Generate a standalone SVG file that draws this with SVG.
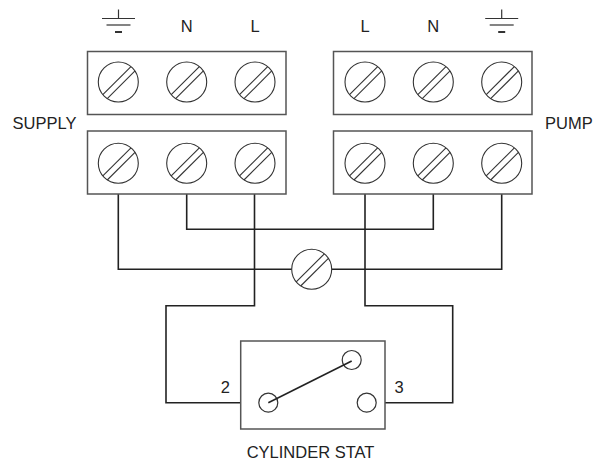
<svg xmlns="http://www.w3.org/2000/svg" xmlns:xlink="http://www.w3.org/1999/xlink" width="594" height="464" viewBox="0 0 594 464">
<style>
.box{fill:#fff;stroke:#555;stroke-width:1.5}
.wire{fill:none;stroke:#222;stroke-width:1.6;stroke-linejoin:miter}
.scr{fill:#fff;stroke:#333;stroke-width:1.1}
.slot{stroke:#333;stroke-width:1.1}
.lbl{font-family:"Liberation Sans",Arial,sans-serif;font-size:16.5px;fill:#222}
.gnd{stroke:#333;stroke-width:1.2}
.term{fill:#fff;stroke:#333;stroke-width:1.2}
</style>
<defs>
<g id="screw">
<circle class="scr" cx="0" cy="0" r="20"/>
<line class="slot" x1="-15.48" y1="12.66" x2="12.66" y2="-15.48"/>
<line class="slot" x1="-11.03" y1="16.69" x2="16.69" y2="-11.03"/>
</g>
<g id="ground">
<line class="gnd" x1="0" y1="-9" x2="0" y2="0"/>
<line class="gnd" x1="-16.5" y1="0" x2="16.5" y2="0"/>
<line class="gnd" x1="-12" y1="6.5" x2="12" y2="6.5"/>
<line x1="-3.5" y1="13.5" x2="3.5" y2="13.5" stroke="#333" stroke-width="2"/>
</g>
</defs>
<rect width="594" height="464" fill="#fff"/>

<g id="connectors">
<polyline class="wire" points="186.7,194 186.7,229.3 433.3,229.3 433.3,194"/>
<polyline class="wire" points="118.3,194 118.3,269.3 292,269.3"/>
<polyline class="wire" points="331.7,269.3 501.7,269.3 501.7,194"/>
<polyline class="wire" points="254.5,194 254.5,305.7 166,305.7 166,402.7 259,402.7"/>
<polyline class="wire" points="365,194 365,305.7 452.7,305.7 452.7,402.7 376.2,402.7"/>
</g>

<g id="supply-top">
<rect class="box" x="87.5" y="51.5" width="198.5" height="63"/>
<use xlink:href="#screw" x="118.3" y="82"/>
<use xlink:href="#screw" x="186.7" y="82"/>
<use xlink:href="#screw" x="255" y="82"/>
</g>
<g id="supply-bottom">
<rect class="box" x="87.5" y="131" width="198.5" height="63"/>
<use xlink:href="#screw" x="118.3" y="163.3"/>
<use xlink:href="#screw" x="186.7" y="163.3"/>
<use xlink:href="#screw" x="255" y="163.3"/>
</g>
<g id="pump-top">
<rect class="box" x="333.5" y="51.5" width="198.5" height="63"/>
<use xlink:href="#screw" x="365" y="82"/>
<use xlink:href="#screw" x="433.3" y="82"/>
<use xlink:href="#screw" x="501.7" y="82"/>
</g>
<g id="pump-bottom">
<rect class="box" x="333.5" y="131" width="198.5" height="63"/>
<use xlink:href="#screw" x="365" y="163.3"/>
<use xlink:href="#screw" x="433.3" y="163.3"/>
<use xlink:href="#screw" x="501.7" y="163.3"/>
</g>
<g id="earth-connector">
<use xlink:href="#screw" x="311.7" y="269.3"/>
</g>

<g id="cylinder-stat">
<rect class="box" x="240.7" y="341" width="144.3" height="88"/>
<circle class="term" cx="268.3" cy="402.7" r="9.5"/>
<circle class="term" cx="351.7" cy="360" r="9.5"/>
<circle class="term" cx="366.7" cy="402.7" r="9.5"/>
<line x1="268.3" y1="402.7" x2="351.7" y2="361" stroke="#222" stroke-width="1.6"/>
<text class="lbl" x="230" y="393" text-anchor="end">2</text>
<text class="lbl" x="394.5" y="393">3</text>
<text class="lbl" x="310.5" y="458" text-anchor="middle">CYLINDER STAT</text>
</g>

<g id="labels">
<use xlink:href="#ground" x="118.5" y="18.5"/>
<text class="lbl" x="186.7" y="32" text-anchor="middle">N</text>
<text class="lbl" x="255" y="32" text-anchor="middle">L</text>
<text class="lbl" x="365" y="32" text-anchor="middle">L</text>
<text class="lbl" x="433.3" y="32" text-anchor="middle">N</text>
<use xlink:href="#ground" x="501.7" y="18.5"/>
<text class="lbl" x="12.5" y="129.3">SUPPLY</text>
<text class="lbl" x="545" y="129.3">PUMP</text>
</g>
</svg>
